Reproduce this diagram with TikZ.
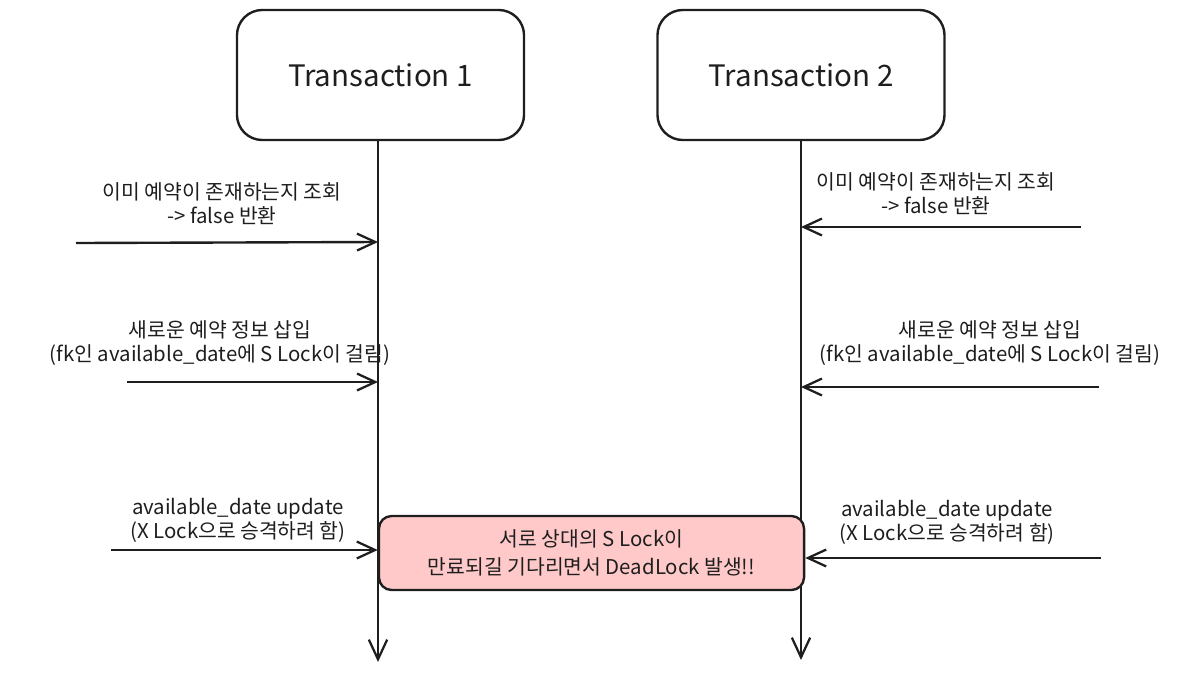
\documentclass[tikz,border=0pt]{standalone}
\usepackage{fontspec}
\setmainfont{Noto Sans CJK KR}
\usetikzlibrary{arrows.meta}
\definecolor{ink}{HTML}{1E1E1E}
\definecolor{pinkfill}{HTML}{FFC9C9}
\tikzset{
  x=0.025cm, y=-0.025cm,
  txbox/.style={draw=ink, line width=1.7pt, rounded corners=18pt, minimum width=7.175cm, minimum height=3.25cm, font=\fontsize{21}{25}\selectfont, text=ink},
  lifeline/.style={draw=ink, line width=1.7pt, -{Straight Barb[length=14pt,width=13pt,line width=1.6pt]}},
  msg/.style={draw=ink, line width=1.7pt, -{Straight Barb[length=13pt,width=12pt,line width=1.6pt]}},
  lbl/.style={align=center, font=\fontsize{14.5}{17}\selectfont, text=ink, inner sep=0pt},
  alertbox/.style={draw=ink, fill=pinkfill, line width=1.7pt, rounded corners=9pt, minimum width=10.625cm, minimum height=1.85cm, align=center, font=\fontsize{14.5}{19.5}\selectfont, text=ink}
}
\begin{document}
\begin{tikzpicture}
\useasboundingbox (0,0) rectangle (1179,673);
% transaction boxes
\node[txbox] (t1) at (380.5,75) {Transaction 1};
\node[txbox] (t2) at (801,75) {Transaction 2};
% lifeline ends
\coordinate (e1) at (378,662);
\coordinate (e2) at (801,660);
\draw[lifeline] (t1.south -| e1) -- (e1);
\draw[lifeline] (t2.south -| e2) -- (e2);
% lifeline points
\coordinate (l1a) at (378,242);
\coordinate (l1b) at (378,382);
\coordinate (l1c) at (378,550);
\coordinate (l2a) at (801,227);
\coordinate (l2b) at (801,387);
\coordinate (l2c) at (801,558);
% free ends
\coordinate (s1a) at (76,243);
\coordinate (s1b) at (127,382);
\coordinate (s1c) at (111,550);
\coordinate (s2a) at (1081,227);
\coordinate (s2b) at (1099,387);
\coordinate (s2c) at (1101,558);
% pink box
\node[alertbox] (dl) at (591.5,553) {서로 상대의 S Lock이\\만료되길 기다리면서 DeadLock 발생!!};
% messages
\draw[msg] (s1a) -- (l1a);
\draw[msg] (s1b) -- (l1b);
\draw[msg] (s1c) -- (dl.west |- l1c);
\draw[msg] (s2a) -- (l2a);
\draw[msg] (s2b) -- (l2b);
\draw[msg] (s2c) -- (dl.east |- l2c);
% labels
\node[lbl] (m1a) at (222,204) {이미 예약이 존재하는지 조회\\-> false 반환};
\node[lbl] (m1b) at (220,343) {새로운 예약 정보 삽입\\(fk인 available\_date에 S Lock이 걸림)};
\node[lbl] (m1c) at (238,520) {available\_date update\\(X Lock으로 승격하려 함)};
\node[lbl] (m2a) at (936,194) {이미 예약이 존재하는지 조회\\-> false 반환};
\node[lbl] (m2b) at (990,343) {새로운 예약 정보 삽입\\(fk인 available\_date에 S Lock이 걸림)};
\node[lbl] (m2c) at (947,522) {available\_date update\\(X Lock으로 승격하려 함)};
\end{tikzpicture}
\end{document}
